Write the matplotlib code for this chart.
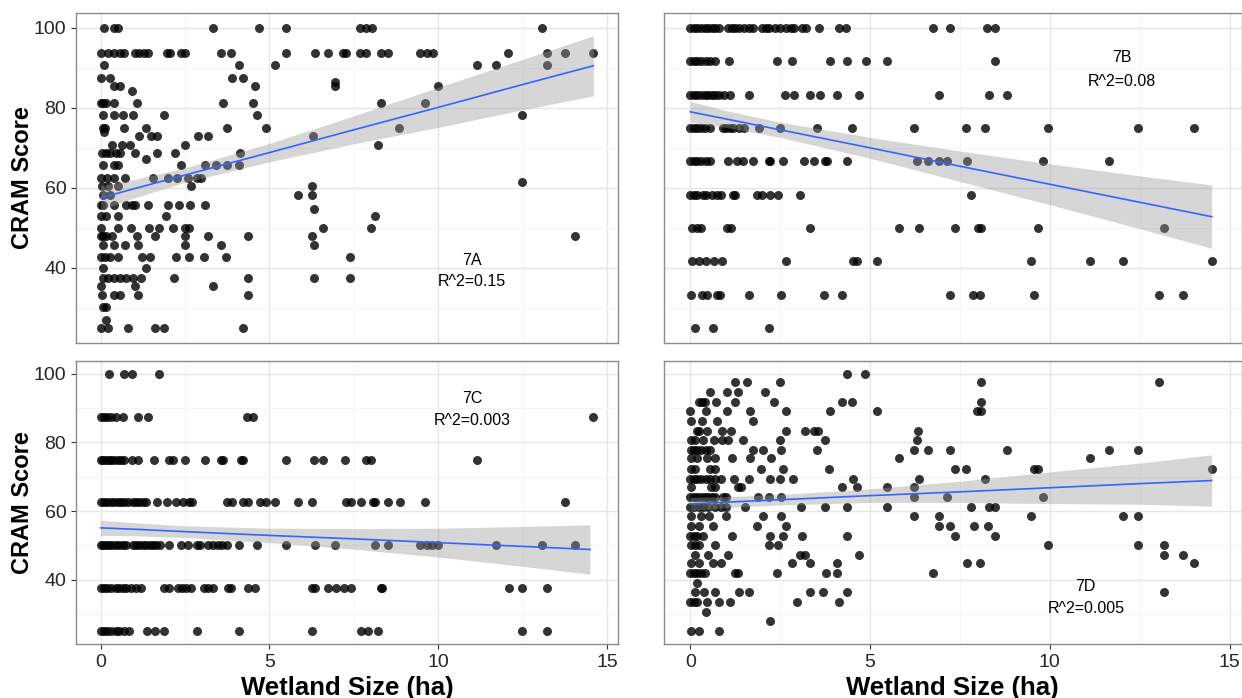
'''
CRAM score against wetland size, four panels (7A-7D) with linear fits
'''
import matplotlib
matplotlib.use('Agg')
import matplotlib.pyplot as plt
from matplotlib.ticker import MultipleLocator

plt.rcParams['font.family'] = ['Liberation Sans', 'DejaVu Sans']

# -------------------------------------------------------
# Panel 7A: (CRAM score, wetland sizes at that score)
a_rows = [
    (100.0, [0.09, 0.39, 0.51, 3.33, 4.7, 5.48, 7.67, 7.85, 8.03, 13.08]),
    (93.75, [0, 0.21, 0.39, 0.56, 0.68, 1.03, 1.15, 1.27, 1.39, 1.97, 2.06, 2.39, 2.5, 3.56, 3.85,
             5.48, 6.36, 6.73, 7.18, 7.26, 7.67, 7.85, 8.32, 8.5, 9.47, 9.67, 9.85, 12.08, 13.23,
             13.75, 14.58]),
    (90.6,  [0.09, 4.09, 5.18, 11.14, 11.7, 13.23]),
    (87.5,  [0.01, 0.29, 3.89, 4.21]),
    (86.5,  [6.93]),
    (85.4,  [0.39, 0.56, 4.56, 6.93, 10.0]),
    (84.3,  [0.92]),
    (81.25, [0, 0.06, 0.15, 0.39, 1.09, 3.62, 4.5, 8.3, 9.61]),
    (78.1,  [0.06, 0.39, 0.65, 0.95, 1.89, 4.64, 12.49]),
    (75.0,  [0.06, 0.12, 0.7, 1.33, 3.74, 4.89, 8.85]),
    (74.0,  [0.09]),
    (72.9,  [1.15, 1.5, 1.68, 2.88, 3.18, 6.3]),
    (70.6,  [0.33, 0.62, 0.88, 2.5, 8.23]),
    (68.75, [0.04, 0.15, 0.27, 0.45, 0.56, 1.03, 1.68, 2.21, 4.12]),
    (67.2,  [1.33]),
    (65.6,  [0.06, 0.39, 0.51, 2.39, 3.09, 3.42, 3.74, 4.09]),
    (62.5,  [0.01, 0.18, 0.39, 0.72, 1.56, 2.01, 2.27, 2.6, 2.86, 2.97]),
    (61.4,  [12.49]),
    (60.4,  [0.04, 0.21, 0.51, 2.68, 6.26]),
    (58.3,  [0.06, 0.27, 5.85, 6.26]),
    (55.7,  [0, 0.06, 0.39, 0.76, 0.92, 1.03, 1.39, 2.01, 2.33, 2.66, 3.09]),
    (54.7,  [6.32]),
    (52.9,  [0, 0.15, 0.51, 1.94, 8.14]),
    (50.0,  [0, 0.51, 0.89, 1.42, 1.74, 2.15, 2.5, 2.62, 6.59, 8.0]),
    (47.9,  [0, 0.06, 0.15, 0.33, 1.07, 1.62, 2.5, 3.18, 4.36, 6.26, 14.05]),
    (45.8,  [0.06, 0.39, 0.72, 1.12, 2.5, 3.56, 6.32]),
    (42.7,  [0, 0.13, 0.27, 0.51, 1.23, 1.45, 2.24, 2.62, 3.07, 3.7, 7.4]),
    (40.0,  [0.06, 1.35]),
    (37.5,  [0.06, 0.21, 0.39, 0.56, 0.76, 0.95, 1.21, 2.17, 4.36, 6.32, 7.4]),
    (35.4,  [0, 1.03, 3.33]),
    (33.3,  [0.04, 0.39, 0.56, 1.12, 4.36]),
    (30.2,  [0.06, 0.15]),
    (27.1,  [0.15]),
    (25.0,  [0, 0.21, 0.8, 1.62, 1.89, 4.23]),
]
a_fit_x  = [0, 1, 2.5, 5, 7.5, 10, 12.5, 14.6]
a_fit_y  = [57.5, 59.8, 63.2, 68.8, 74.5, 80.1, 85.8, 90.5]
a_fit_lo = [54.5, 57.5, 61.4, 66.5, 71.0, 75.1, 79.5, 83.0]
a_fit_hi = [60.5, 62.1, 65.0, 71.1, 78.0, 85.1, 92.1, 98.0]

# Panel 7B
b_rows = [
    (100.0, [0, 0.1, 0.2, 0.3, 0.4, 0.5, 0.6, 0.7, 0.8, 1.05, 1.15, 1.25, 1.35, 1.5, 1.63, 1.74,
             2.0, 2.1, 2.2, 2.35, 2.5, 2.65, 2.8, 2.89, 3.1, 3.22, 3.57, 4.15, 4.32, 6.74, 7.23,
             8.25, 8.47]),
    (91.7,  [0, 0.1, 0.2, 0.3, 0.45, 0.55, 0.7, 1.08, 2.4, 2.84, 3.88, 4.35, 4.88, 5.47, 8.47]),
    (83.3,  [0, 0.1, 0.2, 0.3, 0.4, 0.5, 0.6, 0.7, 0.8, 0.95, 1.1, 1.64, 2.63, 2.89, 3.33, 3.6,
             4.08, 4.7, 6.91, 8.3, 8.82]),
    (75.0,  [0, 0.1, 0.2, 0.3, 0.4, 0.55, 0.9, 1.0, 1.1, 1.2, 1.35, 1.5, 1.9, 2.49, 3.53, 4.5,
             6.22, 7.67, 8.19, 9.96, 12.45, 14.01]),
    (66.7,  [0, 0.1, 0.2, 0.3, 0.45, 0.55, 1.04, 1.3, 1.46, 1.74, 2.18, 2.23, 2.59, 3.16, 3.44,
             3.75, 3.81, 4.35, 6.3, 6.6, 6.93, 7.15, 7.7, 9.81, 11.65]),
    (58.3,  [0, 0.1, 0.2, 0.35, 0.45, 0.6, 0.75, 0.85, 1.2, 1.25, 1.85, 2.0, 2.23, 2.43, 3.05,
             7.81]),
    (50.0,  [0.05, 0.2, 0.3, 1.02, 1.13, 3.33, 5.81, 6.37, 7.36, 8.0, 8.08, 9.68, 13.18]),
    (41.7,  [0.05, 0.25, 0.44, 0.66, 0.89, 2.67, 4.54, 4.63, 5.19, 9.48, 11.13, 12.03, 14.52]),
    (33.3,  [0.03, 0.33, 0.47, 0.75, 0.84, 1.64, 2.53, 3.71, 4.23, 7.23, 7.87, 8.05, 9.55,
             13.03, 13.69]),
    (25.0,  [0.14, 0.64, 2.18]),
]
b_fit_x  = [0, 1, 2.5, 5, 7.5, 10, 12.5, 14.5]
b_fit_y  = [79.0, 77.2, 74.5, 70.0, 65.4, 60.9, 56.4, 52.8]
b_fit_lo = [76.4, 75.1, 72.6, 67.4, 61.6, 55.8, 49.8, 44.9]
b_fit_hi = [81.6, 79.3, 76.4, 72.6, 69.2, 66.0, 63.0, 60.7]

# Panel 7C
c_rows = [
    (100.0, [0.25, 0.68, 0.92, 1.74]),
    (87.5,  [0, 0.1, 0.2, 0.3, 0.45, 0.65, 1.12, 1.39, 4.35, 4.5, 14.58]),
    (75.0,  [0, 0.08, 0.16, 0.24, 0.32, 0.4, 0.5, 0.6, 0.7, 0.92, 1.12, 1.59, 2.03, 2.15, 2.5,
             3.09, 3.58, 3.64, 4.15, 4.23, 5.48, 6.32, 6.59, 7.23, 7.85, 8.0, 11.16]),
    (62.5,  [0, 0.1, 0.2, 0.3, 0.4, 0.5, 0.6, 0.7, 0.8, 0.95, 1.05, 1.15, 1.25, 1.35, 1.68,
             1.97, 2.24, 2.44, 2.62, 2.71, 3.74, 3.89, 4.21, 4.36, 4.71, 4.89, 5.18, 5.85, 6.26,
             7.26, 7.41, 7.7, 8.06, 8.14, 8.5, 8.87, 9.61, 13.76]),
    (50.0,  [0, 0.08, 0.16, 0.25, 0.35, 0.45, 0.55, 0.65, 0.75, 0.95, 1.05, 1.15, 1.25, 1.35,
             1.45, 1.55, 1.65, 1.75, 2.03, 2.39, 2.6, 2.86, 2.95, 3.18, 3.33, 3.47, 3.6, 3.74,
             4.1, 4.62, 5.48, 6.35, 6.93, 8.14, 8.5, 9.46, 9.67, 9.82, 10.0, 11.7, 13.08,
             14.05]),
    (37.5,  [0, 0.1, 0.2, 0.3, 0.45, 0.55, 0.65, 0.75, 0.9, 1.05, 1.2, 1.89, 2.03, 2.29, 2.41,
             2.53, 2.68, 3.06, 3.17, 3.33, 3.76, 3.85, 4.36, 4.56, 6.26, 6.35, 6.73, 6.97, 7.2,
             7.41, 8.3, 8.34, 12.1, 12.49, 13.23]),
    (25.0,  [0, 0.1, 0.2, 0.3, 0.45, 0.55, 0.7, 0.85, 1.36, 1.62, 1.89, 2.86, 4.1, 6.26, 7.7,
             7.93, 8.23, 12.49, 13.23]),
]
c_fit_x  = [0, 1, 2.5, 5, 7.5, 10, 12.5, 14.5]
c_fit_y  = [55.1, 54.7, 54.0, 52.9, 51.9, 50.8, 49.7, 48.8]
c_fit_lo = [52.9, 52.8, 52.3, 50.8, 48.9, 46.6, 43.9, 41.6]
c_fit_hi = [57.3, 56.6, 55.7, 55.0, 54.9, 55.0, 55.5, 56.0]

# Panel 7D
d_rows = [
    (100.0, [4.35, 4.87]),
    (97.5,  [1.24, 1.59, 2.49, 8.08, 13.03]),
    (94.7,  [0.56, 1.03, 1.32, 2.08]),
    (91.8,  [0.25, 0.33, 0.4, 0.73, 1.24, 2.33, 4.22, 4.51, 8.08]),
    (89.1,  [0, 0.45, 1.03, 1.66, 2.67, 3.88, 5.19, 7.98, 8.08]),
    (86.3,  [0.03, 0.33, 0.75, 1.74]),
    (83.4,  [0.18, 0.25, 0.47, 0.89, 1.13, 2.65, 3.18, 3.44, 3.55, 6.33]),
    (80.8,  [0.03, 0.14, 0.36, 0.66, 0.89, 1.04, 1.46, 2.49, 3.74, 6.3]),
    (77.9,  [0.03, 0.1, 0.2, 0.3, 0.45, 0.55, 1.74, 2.01, 2.53, 3.53, 6.22, 6.6, 7.23, 8.82,
             11.65, 12.45]),
    (75.4,  [0.03, 0.18, 0.47, 0.69, 1.15, 1.66, 2.25, 5.81, 11.13]),
    (72.4,  [0.03, 0.14, 0.56, 0.69, 1.97, 2.59, 3.85, 7.37, 7.68, 9.55, 9.68, 14.52]),
    (69.4,  [0, 0.1, 0.2, 0.3, 0.45, 0.55, 0.7, 0.85, 1.21, 1.63, 2.23, 2.49, 2.87, 4.54, 6.36,
             8.19]),
    (67.0,  [0.03, 0.58, 0.69, 1.32, 1.41, 4.22, 4.65, 5.46, 6.22]),
    (64.1,  [0, 0.1, 0.2, 0.3, 0.4, 0.5, 0.6, 0.7, 0.9, 1.0, 1.88, 2.18, 2.53, 6.22, 7.15, 9.81]),
    (61.2,  [0, 0.1, 0.25, 0.35, 0.5, 0.7, 0.85, 1.0, 1.53, 3.08, 3.74, 4.35, 5.46, 7.81, 8.3,
             8.47]),
    (58.5,  [0.03, 0.31, 0.53, 1.0, 2.03, 2.53, 6.22, 6.93, 9.48, 12.03, 12.45]),
    (55.6,  [0.03, 0.25, 0.64, 1.87, 2.67, 6.93, 7.23, 7.89, 8.27]),
    (52.7,  [0, 0.1, 0.2, 0.35, 1.15, 2.23, 2.59, 3.11, 4.35, 7.37, 8.47]),
    (50.2,  [0.03, 0.14, 0.25, 0.69, 2.18, 2.43, 9.96, 12.45, 13.18]),
    (47.3,  [0.14, 0.49, 1.04, 3.05, 3.19, 4.7, 13.18, 13.69]),
    (44.8,  [0.03, 0.25, 0.62, 0.86, 2.84, 3.33, 4.08, 7.7, 8.05, 14.01]),
    (41.8,  [0, 0.1, 0.2, 0.3, 0.42, 1.24, 1.32, 2.4, 3.77, 4.08, 6.74]),
    (39.0,  [0.18]),
    (36.4,  [0.14, 0.38, 0.69, 1.35, 1.63, 3.33, 3.7, 4.35, 13.18]),
    (33.5,  [0, 0.1, 0.2, 0.47, 0.8, 1.11, 2.96, 4.15]),
    (30.6,  [0.45]),
    (28.0,  [2.21]),
    (25.0,  [0.03, 0.25, 0.8]),
]
d_fit_x  = [0, 1, 2.5, 5, 7.5, 10, 12.5, 14.5]
d_fit_y  = [62.1, 62.6, 63.3, 64.5, 65.6, 66.8, 68.0, 68.9]
d_fit_lo = [60.2, 61.0, 61.8, 62.5, 62.5, 62.2, 62.0, 61.4]
d_fit_hi = [64.0, 64.2, 64.8, 66.5, 68.7, 71.4, 74.0, 76.4]

panel_tags = ['7A', '7B', '7C', '7D']
panel_r2   = ['R^2=0.15', 'R^2=0.08', 'R^2=0.003', 'R^2=0.005']
tag_pos    = [(11.0, 41.9, 36.5), (12.0, 92.6, 86.6), (11.0, 92.9, 86.4), (11.0, 37.9, 31.6)]

x_label = 'Wetland Size (ha)'
y_label = 'CRAM Score'
x_ticks = [0, 5, 10, 15]
y_ticks = [40, 60, 80, 100]
# -------------------------------------------------------
def _flatten(rows):
    xs, ys = [], []
    for yval, l_x in rows:
        for xval in l_x:
            xs.append(xval)
            ys.append(yval)

    return xs, ys
# -------------------------------------------------------
def _draw_panel(ax, rows, fit, tag, r2, pos, show_x, show_y):
    xs, ys = _flatten(rows)
    fx, fy, flo, fhi = fit

    ax.scatter(xs, ys, s=42, color='black', alpha=0.8, linewidths=0, zorder=3)
    ax.fill_between(fx, flo, fhi, color='#999999', alpha=0.4, linewidth=0, zorder=4)
    ax.plot(fx, fy, color='#3366FF', lw=1.2, zorder=5)

    xt, yt1, yt2 = pos
    ax.text(xt, yt1, tag, ha='center', va='center', fontsize=11.5, zorder=6)
    ax.text(xt, yt2, r2 , ha='center', va='center', fontsize=11.5, zorder=6)

    ax.set_xlim(-0.73, 15.33)
    ax.set_ylim(21.25, 103.75)
    ax.xaxis.set_major_locator(MultipleLocator(5))
    ax.xaxis.set_minor_locator(MultipleLocator(2.5))
    ax.set_yticks(y_ticks)
    ax.yaxis.set_minor_locator(MultipleLocator(10))

    ax.grid(which='major', color='#e6e6e6', lw=1.0, zorder=0)
    ax.grid(which='minor', color='#f3f3f3', lw=0.6, zorder=0)
    ax.set_axisbelow(True)

    for spine in ax.spines.values():
        spine.set_color('#8c8c8c')
        spine.set_linewidth(1.0)

    ax.tick_params(which='minor', length=0)
    ax.tick_params(which='major', color='#333333', length=3.5, width=0.8,
                   labelsize=14, labelcolor='#262626')
    if show_x:
        ax.set_xticks(x_ticks)
        ax.set_xlabel(x_label, fontsize=18.5, fontweight='bold')
        ax.xaxis.set_label_coords(0.5, -0.113)
    else:
        ax.tick_params(axis='x', which='major', length=0, labelbottom=False)

    if show_y:
        ax.set_ylabel(y_label, fontsize=17, fontweight='bold')
        ax.yaxis.set_label_coords(-0.078, 0.5)
    else:
        ax.tick_params(axis='y', which='major', length=0, labelleft=False)
# -------------------------------------------------------
def main():
    fig = plt.figure(figsize=(12.42, 6.98), dpi=100)

    boxes = [
        [0.0612, 0.5086, 0.4364, 0.4732],
        [0.5346, 0.5086, 0.4650, 0.4732],
        [0.0612, 0.0774, 0.4364, 0.4054],
        [0.5346, 0.0774, 0.4650, 0.4054],
    ]
    l_rows = [a_rows, b_rows, c_rows, d_rows]
    l_fit  = [
        (a_fit_x, a_fit_y, a_fit_lo, a_fit_hi),
        (b_fit_x, b_fit_y, b_fit_lo, b_fit_hi),
        (c_fit_x, c_fit_y, c_fit_lo, c_fit_hi),
        (d_fit_x, d_fit_y, d_fit_lo, d_fit_hi),
    ]

    for i, box in enumerate(boxes):
        ax = fig.add_axes(box)
        _draw_panel(ax, l_rows[i], l_fit[i], panel_tags[i], panel_r2[i], tag_pos[i],
                    show_x=(i >= 2), show_y=(i % 2 == 0))

    fig.savefig('out.png', dpi=100)
    plt.close(fig)
# -------------------------------------------------------
if __name__ == '__main__':
    main()
